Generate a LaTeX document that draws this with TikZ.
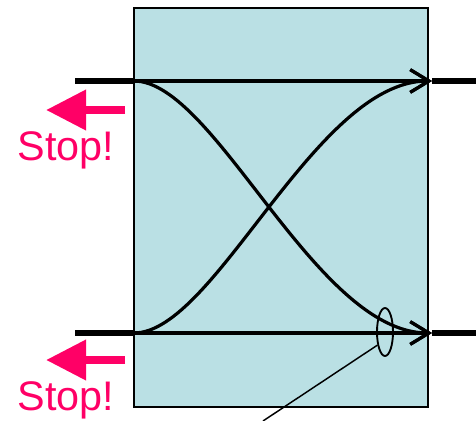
\documentclass[tikz,border=0pt]{standalone}
\usepackage{fontspec}
\setmainfont{Liberation Sans}
\usetikzlibrary{arrows.meta,shapes.geometric}
\definecolor{couplerfill}{RGB}{186,224,228}
\definecolor{stoppink}{RGB}{255,0,102}
\tikzset{
  fibre/.style={line width=4.5pt},
  guide/.style={line width=2.4pt,-{Straight Barb[length=14pt,width=17pt]}},
  stoparrow/.style={stoppink,line width=6pt,-{Triangle[length=30pt,width=29pt]}},
  stoptext/.style={stoppink,anchor=base,font=\fontsize{31}{34}\selectfont},
}
\begin{document}
\begin{tikzpicture}[x=0.75pt,y=-0.75pt]
  \useasboundingbox (0,0) rectangle (476,421);
  % Koppler-Gehaeuse
  \coordinate (NW) at (134,8);
  \coordinate (SE) at (428,407);
  \fill[couplerfill] (NW) rectangle (SE);
  \draw[line width=1.5pt] (NW) rectangle (SE);
  % Ein- und Ausgaenge
  \coordinate (in1) at (134,81);
  \coordinate (in2) at (134,333);
  \coordinate (out1) at (432,81);
  \coordinate (out2) at (432,333);
  \coordinate (feed1) at (75,81);
  \coordinate (feed2) at (75,333);
  \coordinate (end1) at (476,81);
  \coordinate (end2) at (476,333);
  % Zuleitungen aussen
  \draw[fibre] (feed1) -- (in1);
  \draw[fibre] (feed2) -- (in2);
  \draw[fibre] (out1) -- (end1);
  \draw[fibre] (out2) -- (end2);
  % gerade Wege und Ueberkopplung
  \draw[guide] (in1) -- (out1);
  \draw[guide] (in2) -- (out2);
  \draw[guide] (in1) .. controls (215,81) and (315,333) .. (out2);
  \draw[guide] (in2) .. controls (215,333) and (315,81) .. (out1);
  % Markierung am Ausgang
  \node[ellipse,draw,line width=1.4pt,inner sep=0pt,minimum width=12pt,
        minimum height=36pt] (tap) at (385,332) {};
  \coordinate (lead) at (263,421);
  \draw[line width=1.1pt] (tap.240) -- (lead);
  % Rueckwaerts-Pfeile
  \coordinate (back1) at (125,110);
  \coordinate (tip1) at (46,110);
  \coordinate (back2) at (125,360);
  \coordinate (tip2) at (46,360);
  \draw[stoparrow] (back1) -- (tip1);
  \draw[stoparrow] (back2) -- (tip2);
  \node[stoptext] (stopa) at (66,161) {Stop!};
  \node[stoptext] (stopb) at (66,410) {Stop!};
\end{tikzpicture}
\end{document}
